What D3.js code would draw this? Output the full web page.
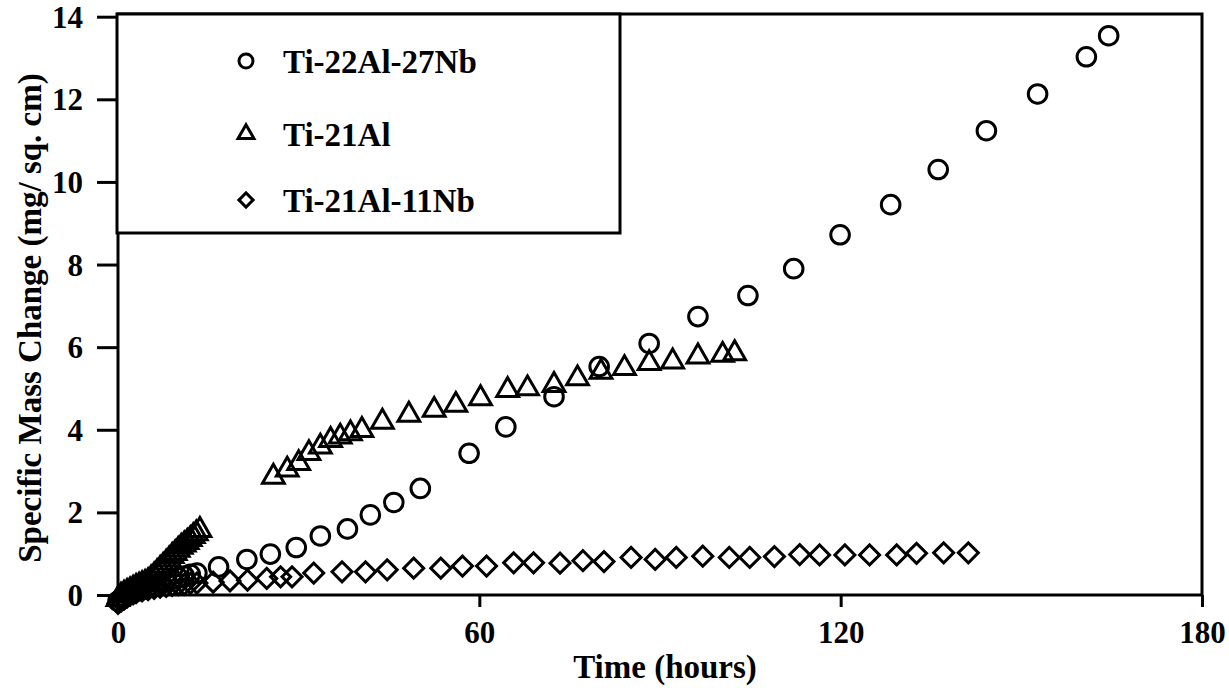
<!DOCTYPE html>
<html>
<head>
<meta charset="utf-8">
<script src="https://cdn.jsdelivr.net/npm/d3@7"></script>
<style>
  body { margin: 0; background: #fff; }
  svg text { font-family: "Liberation Serif", "Times New Roman", serif; font-weight: bold; fill: #000; }
</style>
</head>
<body>
<div id="chart"></div>
<script>
// --- Data ---
const seriesNames = ["Ti-22Al-27Nb", "Ti-21Al", "Ti-21Al-11Nb"];
const xTicks = [0, 60, 120, 180];
const yTicks = [0, 2, 4, 6, 8, 10, 12, 14];

// [hours, mg/sq.cm]
const ti22Al27Nb = [
  [0, -0.15], [0.5, -0.1], [1, -0.05], [2, 0.02], [3, 0.08], [4, 0.13], [5, 0.18],
  [6, 0.23], [7, 0.28], [8, 0.33], [9, 0.38], [10, 0.42], [11, 0.46], [12, 0.5],
  [13.1, 0.53], [16.7, 0.68], [21.4, 0.86], [25.3, 0.99], [29.6, 1.15], [33.6, 1.43],
  [38.1, 1.6], [41.9, 1.94], [45.8, 2.24], [50.2, 2.58], [58.3, 3.43], [64.4, 4.07],
  [72.4, 4.8], [79.9, 5.53], [88.2, 6.09], [96.3, 6.74], [104.6, 7.25], [112.2, 7.9],
  [119.9, 8.72], [128.3, 9.45], [136.2, 10.3], [144.2, 11.24], [152.7, 12.13],
  [160.8, 13.03], [164.5, 13.54]
];

const ti21Al = [
  [0, -0.1], [0.5, -0.02], [1, 0.03], [1.5, 0.07], [2, 0.11], [2.5, 0.15], [3, 0.19],
  [3.5, 0.22], [4, 0.26], [4.5, 0.29], [5, 0.33], [5.5, 0.4], [6, 0.47], [6.5, 0.55],
  [7, 0.63], [7.5, 0.7], [8, 0.78], [8.5, 0.86], [9, 0.94], [9.5, 1.01], [10, 1.09],
  [10.5, 1.16], [11, 1.22], [11.5, 1.28], [12, 1.35], [12.5, 1.42], [13, 1.49], [13.6, 1.57],
  [25.8, 2.86], [28.1, 3.03], [30.0, 3.19], [31.7, 3.43], [33.6, 3.59], [35.3, 3.75],
  [36.9, 3.83], [38.6, 3.91], [40.5, 3.99], [43.9, 4.19], [48.3, 4.36], [52.5, 4.48],
  [56.1, 4.6], [60.2, 4.76], [64.7, 4.96], [68.0, 5.0], [72.4, 5.08], [76.3, 5.24],
  [80.2, 5.4], [84.1, 5.49], [88.2, 5.61], [92.1, 5.65], [96.3, 5.77], [100.4, 5.81],
  [102.4, 5.85]
];

const ti21Al11Nb = [
  [0, -0.2], [0.5, -0.15], [1, -0.1], [1.5, -0.05], [2, 0], [2.5, 0.03], [3, 0.06],
  [4, 0.1], [5, 0.13], [6, 0.16], [7, 0.19], [8, 0.21], [9, 0.23], [10, 0.25],
  [11, 0.26], [12, 0.28], [13.1, 0.29], [15.8, 0.31], [18.6, 0.34], [21.5, 0.36],
  [24.7, 0.4], [27.0, 0.44], [28.9, 0.44], [32.5, 0.53], [37.2, 0.56], [41.1, 0.56],
  [44.7, 0.61], [49.1, 0.65], [53.6, 0.65], [57.2, 0.7], [61.2, 0.7], [65.7, 0.78],
  [69.0, 0.78], [73.4, 0.77], [77.2, 0.83], [80.7, 0.81], [85.2, 0.91], [89.2, 0.86],
  [92.7, 0.91], [97.1, 0.94], [101.5, 0.91], [104.9, 0.91], [109.0, 0.93], [113.2, 0.98],
  [116.5, 0.97], [120.7, 0.97], [124.8, 0.97], [129.3, 0.97], [132.6, 1.01], [137.1, 1.02],
  [141.2, 1.02]
];

// --- Setup ---
const W = 1229, H = 688;
const svg = d3.select("#chart").append("svg")
    .attr("width", W)
    .attr("height", H);

const x = d3.scaleLinear().domain([0, 180]).range([118, 1202]);
const y = d3.scaleLinear().domain([0, 14]).range([595, 16.7]);

const ink = "#000";
const tickFont = 31;
const titleFont = 33;

// frame
svg.append("rect")
    .attr("x", x(0)).attr("y", 14)
    .attr("width", x(180) - x(0)).attr("height", y(0) - 14)
    .attr("fill", "none")
    .attr("stroke", ink)
    .attr("stroke-width", 3);

// axes
const yAxis = svg.append("g")
    .attr("transform", `translate(${x(0)},0)`)
    .call(d3.axisLeft(y).tickValues(yTicks).tickSize(21).tickPadding(14));

const xAxis = svg.append("g")
    .attr("transform", `translate(0,${y(0)})`)
    .call(d3.axisBottom(x).tickValues(xTicks).tickSize(12).tickPadding(14));

[xAxis, yAxis].forEach(g => {
    g.select(".domain").remove();
    g.selectAll(".tick line").attr("stroke", ink).attr("stroke-width", 3);
    g.selectAll(".tick text")
        .attr("fill", ink)
        .style("font-size", tickFont + "px")
        .style("font-family", "'Liberation Serif', serif")
        .style("font-weight", "bold");
});
yAxis.selectAll(".tick text").attr("dy", "0.34em");

// axis titles
svg.append("text")
    .attr("x", 665)
    .attr("y", 678)
    .attr("text-anchor", "middle")
    .style("font-size", titleFont + "px")
    .text("Time (hours)");

svg.append("text")
    .attr("transform", "translate(41,318) rotate(-90)")
    .attr("text-anchor", "middle")
    .style("font-size", titleFont + "px")
    .text("Specific Mass Change (mg/ sq. cm)");

// --- Markers ---
const circleSym = d3.symbol().type(d3.symbolCircle).size(Math.PI * 9.3 * 9.3);
const triSym = d3.symbol().type(d3.symbolTriangle).size(205);
const diaSym = d3.symbol().type(d3.symbolSquare).size(200);

const plot = svg.append("g")
    .attr("fill", "none")
    .attr("stroke", ink)
    .attr("stroke-width", 3);

plot.selectAll(".s-circle")
    .data(ti22Al27Nb)
    .enter().append("path")
        .attr("class", "s-circle")
        .attr("transform", d => `translate(${x(d[0])},${y(d[1])})`)
        .attr("d", circleSym);

plot.selectAll(".s-tri")
    .data(ti21Al)
    .enter().append("path")
        .attr("class", "s-tri")
        .attr("transform", d => `translate(${x(d[0])},${y(d[1])})`)
        .attr("d", triSym);

plot.selectAll(".s-dia")
    .data(ti21Al11Nb)
    .enter().append("path")
        .attr("class", "s-dia")
        .attr("transform", d => `translate(${x(d[0])},${y(d[1])}) rotate(45)`)
        .attr("d", diaSym);

// --- Legend ---
svg.append("rect")
    .attr("x", 117).attr("y", 14)
    .attr("width", 503).attr("height", 219)
    .attr("fill", "#fff")
    .attr("stroke", ink)
    .attr("stroke-width", 3);

const legendSyms = [
    d3.symbol().type(d3.symbolCircle).size(Math.PI * 7 * 7),
    d3.symbol().type(d3.symbolTriangle).size(110),
    d3.symbol().type(d3.symbolSquare).size(100)
];
const legendRows = [61, 134, 200];

const legend = svg.append("g");
seriesNames.forEach((name, i) => {
    legend.append("path")
        .attr("transform", `translate(246,${legendRows[i]})${i === 2 ? " rotate(45)" : ""}`)
        .attr("d", legendSyms[i])
        .attr("fill", "none")
        .attr("stroke", ink)
        .attr("stroke-width", 3);
    legend.append("text")
        .attr("x", 283)
        .attr("y", legendRows[i] + 12)
        .style("font-size", titleFont + "px")
        .text(name);
});
</script>
</body>
</html>
